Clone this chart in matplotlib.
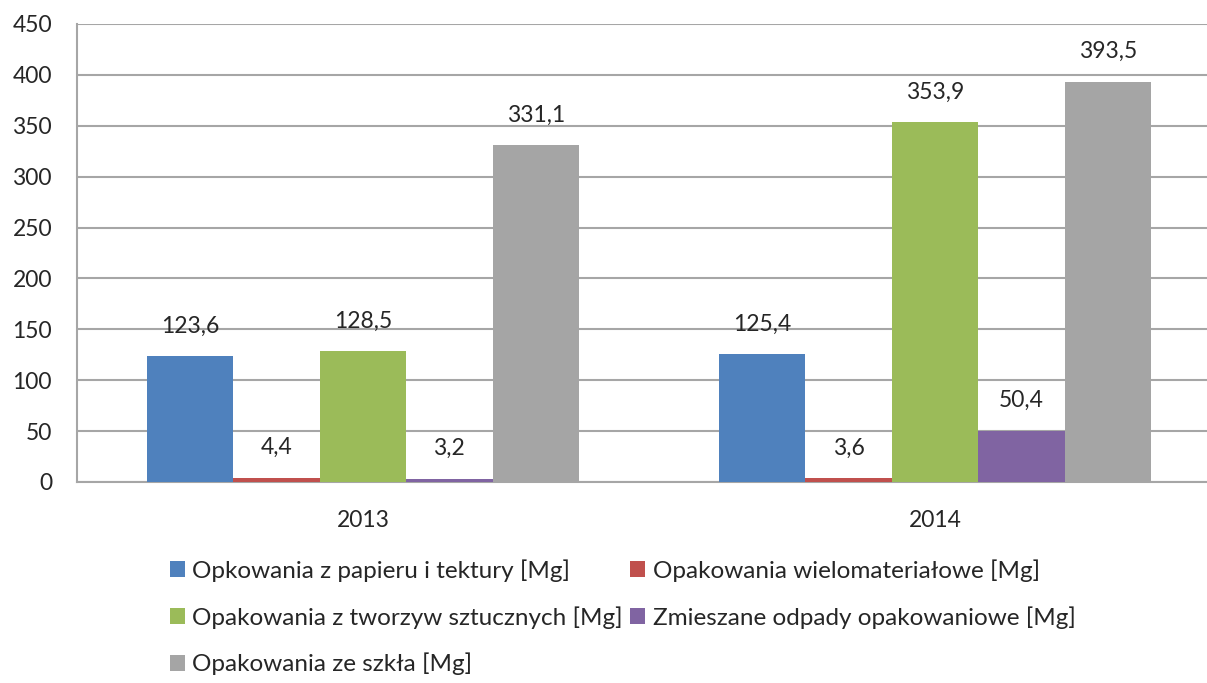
import numpy as np
import matplotlib.pyplot as plt

plt.rcParams['font.family'] = ['Lato', 'DejaVu Sans']

years = ['2013', '2014']
series_names = [
    'Opkowania z papieru i tektury [Mg]',
    'Opakowania wielomateriałowe [Mg]',
    'Opakowania z tworzyw sztucznych [Mg]',
    'Zmieszane odpady opakowaniowe [Mg]',
    'Opakowania ze szkła [Mg]',
]
paper = [123.6, 125.4]
multi = [4.4, 3.6]
plastic = [128.5, 353.9]
mixed = [3.2, 50.4]
glass = [331.1, 393.5]
colors = ['#4F81BD', '#C0504D', '#9BBB59', '#8064A2', '#A5A5A5']

W, H = 1207, 683
fig = plt.figure(figsize=(W / 100, H / 100), dpi=100)
ax = fig.add_axes([77 / W, (H - 482) / H, 1144 / W, 458 / H])

text_color = '#262626'
grid_color = '#A6A6A6'

x = np.arange(len(years))
bw = 0.151
values = [paper, multi, plastic, mixed, glass]
handles = []
for i, (vals, name, c) in enumerate(zip(values, series_names, colors)):
    pos = x + (i - 2) * bw
    bars = ax.bar(pos, vals, width=bw, color=c, label=name, zorder=3)
    handles.append(bars)
    for xp, v in zip(pos, vals):
        ax.annotate(f'{v:.1f}'.replace('.', ','), (xp, v), xytext=(0, 14),
                    textcoords='offset points', ha='center', va='bottom',
                    fontsize=16.5, color=text_color)

ax.set_xlim(-0.5, 1.5)
ax.set_ylim(0, 450)
ax.set_yticks(range(0, 451, 50))
ax.set_xticks(x)
ax.set_xticklabels(years)
ax.tick_params(axis='both', length=0, labelsize=16.5, colors=text_color)
ax.tick_params(axis='y', pad=18)
ax.tick_params(axis='x', pad=20)
ax.yaxis.grid(True, color=grid_color, linewidth=1.5, zorder=0)
ax.set_axisbelow(True)
for s in ['top', 'right']:
    ax.spines[s].set_visible(False)
for s in ['left', 'bottom']:
    ax.spines[s].set_color(grid_color)
    ax.spines[s].set_linewidth(1.5)

# Excel fills the legend row by row, matplotlib column by column
order = [0, 2, 4, 1, 3]
fig.legend([handles[i] for i in order], [series_names[i] for i in order],
           ncol=2, loc='upper left', bbox_to_anchor=(170 / W, 1 - 559 / H),
           frameon=False, fontsize=17.5, handlelength=0.62, handleheight=0.62,
           handletextpad=0.3, columnspacing=0.3, labelspacing=1.0,
           labelcolor=text_color, borderpad=0, borderaxespad=0)

fig.savefig('out.png', dpi=100)
